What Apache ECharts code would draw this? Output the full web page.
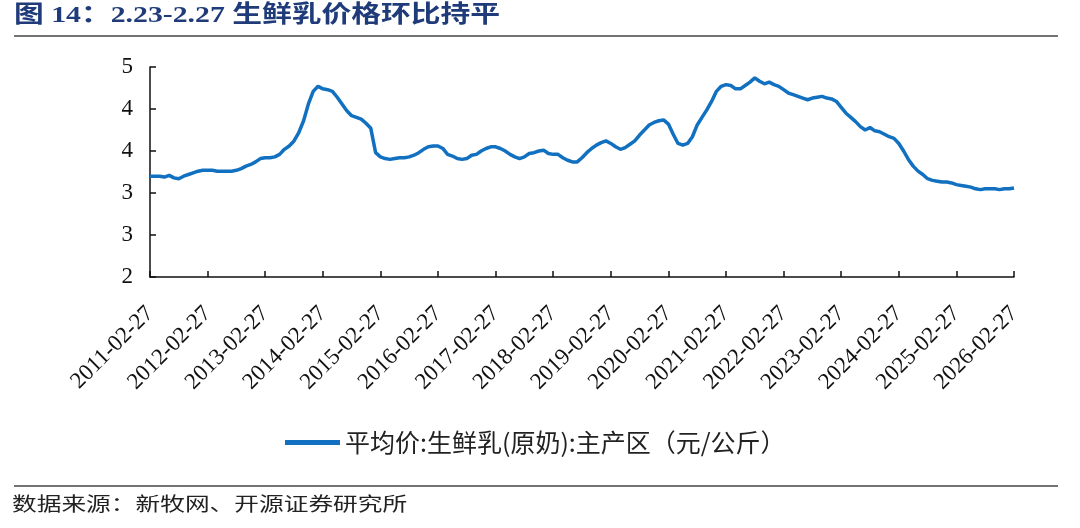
<!DOCTYPE html>
<html><head><meta charset="utf-8">
<script src="https://cdn.jsdelivr.net/npm/echarts@6/dist/echarts.min.js"></script>
<style>html,body{margin:0;padding:0;background:#fff}#chart{width:1080px;height:528px}</style>
</head><body><div id="chart"></div>
<script>
// Monthly readings (2011-02 .. 2026-02), 元/公斤
const v2011 = [3.20,3.20,3.20,3.19,3.21,3.18,3.17,3.20,3.22,3.24,3.26,3.27];
const v2012 = [3.27,3.27,3.26,3.26,3.26,3.26,3.27,3.29,3.32,3.34,3.37,3.41];
const v2013 = [3.42,3.42,3.43,3.46,3.52,3.56,3.62,3.72,3.86,4.06,4.21,4.27];
const v2014 = [4.24,4.23,4.21,4.14,4.06,3.98,3.92,3.90,3.88,3.83,3.77,3.48];
const v2015 = [3.43,3.41,3.40,3.41,3.42,3.42,3.43,3.45,3.48,3.52,3.55,3.56];
const v2016 = [3.56,3.53,3.46,3.44,3.41,3.40,3.41,3.45,3.46,3.50,3.53,3.55];
const v2017 = [3.55,3.53,3.50,3.46,3.43,3.41,3.43,3.47,3.48,3.50,3.51,3.47];
const v2018 = [3.46,3.46,3.42,3.39,3.37,3.37,3.42,3.48,3.53,3.57,3.60,3.62];
const v2019 = [3.59,3.55,3.52,3.54,3.58,3.62,3.69,3.75,3.81,3.84,3.86,3.87];
const v2020 = [3.82,3.70,3.59,3.57,3.59,3.67,3.81,3.90,3.99,4.09,4.21,4.27];
const v2021 = [4.29,4.28,4.24,4.24,4.28,4.32,4.37,4.33,4.30,4.32,4.29,4.27];
const v2022 = [4.23,4.19,4.17,4.15,4.13,4.11,4.13,4.14,4.15,4.13,4.12,4.09];
const v2023 = [4.02,3.95,3.90,3.85,3.79,3.75,3.78,3.74,3.73,3.70,3.67,3.65];
const v2024 = [3.59,3.50,3.40,3.32,3.26,3.22,3.17,3.15,3.14,3.13,3.13,3.12];
const v2025 = [3.10,3.09,3.08,3.07,3.05,3.04,3.05,3.05,3.05,3.04,3.05,3.05];
const v2026 = [3.06];

const xTickLabels = ['2011-02-27','2012-02-27','2013-02-27','2014-02-27','2015-02-27',
  '2016-02-27','2017-02-27','2018-02-27','2019-02-27','2020-02-27','2021-02-27',
  '2022-02-27','2023-02-27','2024-02-27','2025-02-27','2026-02-27'];
const yTickValues = [2, 2.5, 3, 3.5, 4, 4.5];
const yTickLabels = ['2', '3', '3', '4', '4', '5'];
const seriesName = '平均价:生鲜乳(原奶):主产区（元/公斤）';
const titleText = '图 14：2.23-2.27 生鲜乳价格环比持平';
const sourceText = '数据来源：新牧网、开源证券研究所';

const values = [].concat(v2011,v2012,v2013,v2014,v2015,v2016,v2017,v2018,v2019,v2020,v2021,v2022,v2023,v2024,v2025,v2026);
const categories = [];
for (let i = 0; i < values.length; i++) {
  const m = 1 + i; // months after Jan 2011
  const y = 2011 + Math.floor(m / 12);
  const mo = (m % 12) + 1;
  categories.push(y + '-' + String(mo).padStart(2, '0') + '-27');
}

const serif = "'Liberation Serif','Noto Sans CJK SC',serif";
const chart = echarts.init(document.getElementById('chart'), null, {renderer: 'canvas'});
chart.setOption({
  animation: false,
  backgroundColor: '#fff',
  grid: {left: 150, right: 66, top: 67, bottom: 251, containLabel: false},
  xAxis: {
    type: 'category', data: categories, boundaryGap: false,
    axisLine: {lineStyle: {color: '#111', width: 1.5}},
    axisTick: {inside: true, length: 6, interval: (i) => i % 12 === 0, lineStyle: {color: '#111', width: 1.5}},
    axisLabel: {
      interval: (i) => i % 12 === 0, rotate: 45, margin: 33,
      color: '#111', fontFamily: serif, fontSize: 23,
      formatter: (v, i) => xTickLabels[Math.round(i / 12)]
    },
    splitLine: {show: false}
  },
  yAxis: {
    type: 'value', min: 2, max: 4.5, interval: 0.5,
    axisLine: {show: true, lineStyle: {color: '#111', width: 1.5}},
    axisTick: {show: true, inside: true, length: 6, lineStyle: {color: '#111', width: 1.5}},
    axisLabel: {
      color: '#111', fontFamily: serif, fontSize: 23, margin: 17,
      formatter: (v) => { const k = yTickValues.findIndex(t => Math.abs(t - v) < 1e-6); return k >= 0 ? yTickLabels[k] : ''; }
    },
    splitLine: {show: false}
  },
  legend: {
    left: 285, top: 430, itemWidth: 55, itemHeight: 5, itemGap: 10, padding: 0,
    textStyle: {fontSize: 25, color: '#222', fontFamily: "'Noto Sans CJK SC'"},
    data: [{name: seriesName, icon: 'rect'}]
  },
  series: [{
    name: seriesName, type: 'line', data: values, symbol: 'none', showSymbol: false,
    lineStyle: {color: '#1170bf', width: 3.5}, itemStyle: {color: '#1170bf'}
  }],
  graphic: [
    {type: 'text', x: 14, y: 4, scaleX: 1.24, style: {text: titleText, fill: '#1f3b7a',
      font: "bold 24px 'Liberation Serif','Noto Sans CJK SC'"}},
    {type: 'line', shape: {x1: 14, y1: 36, x2: 1058, y2: 36}, style: {stroke: '#444', lineWidth: 1.5}},
    {type: 'line', shape: {x1: 14, y1: 486, x2: 1058, y2: 486}, style: {stroke: '#444', lineWidth: 1.5}},
    {type: 'text', x: 12, y: 494, scaleX: 1.3, style: {text: sourceText, fill: '#222',
      font: "19px 'Noto Sans CJK SC'"}}
  ]
});
</script></body></html>
